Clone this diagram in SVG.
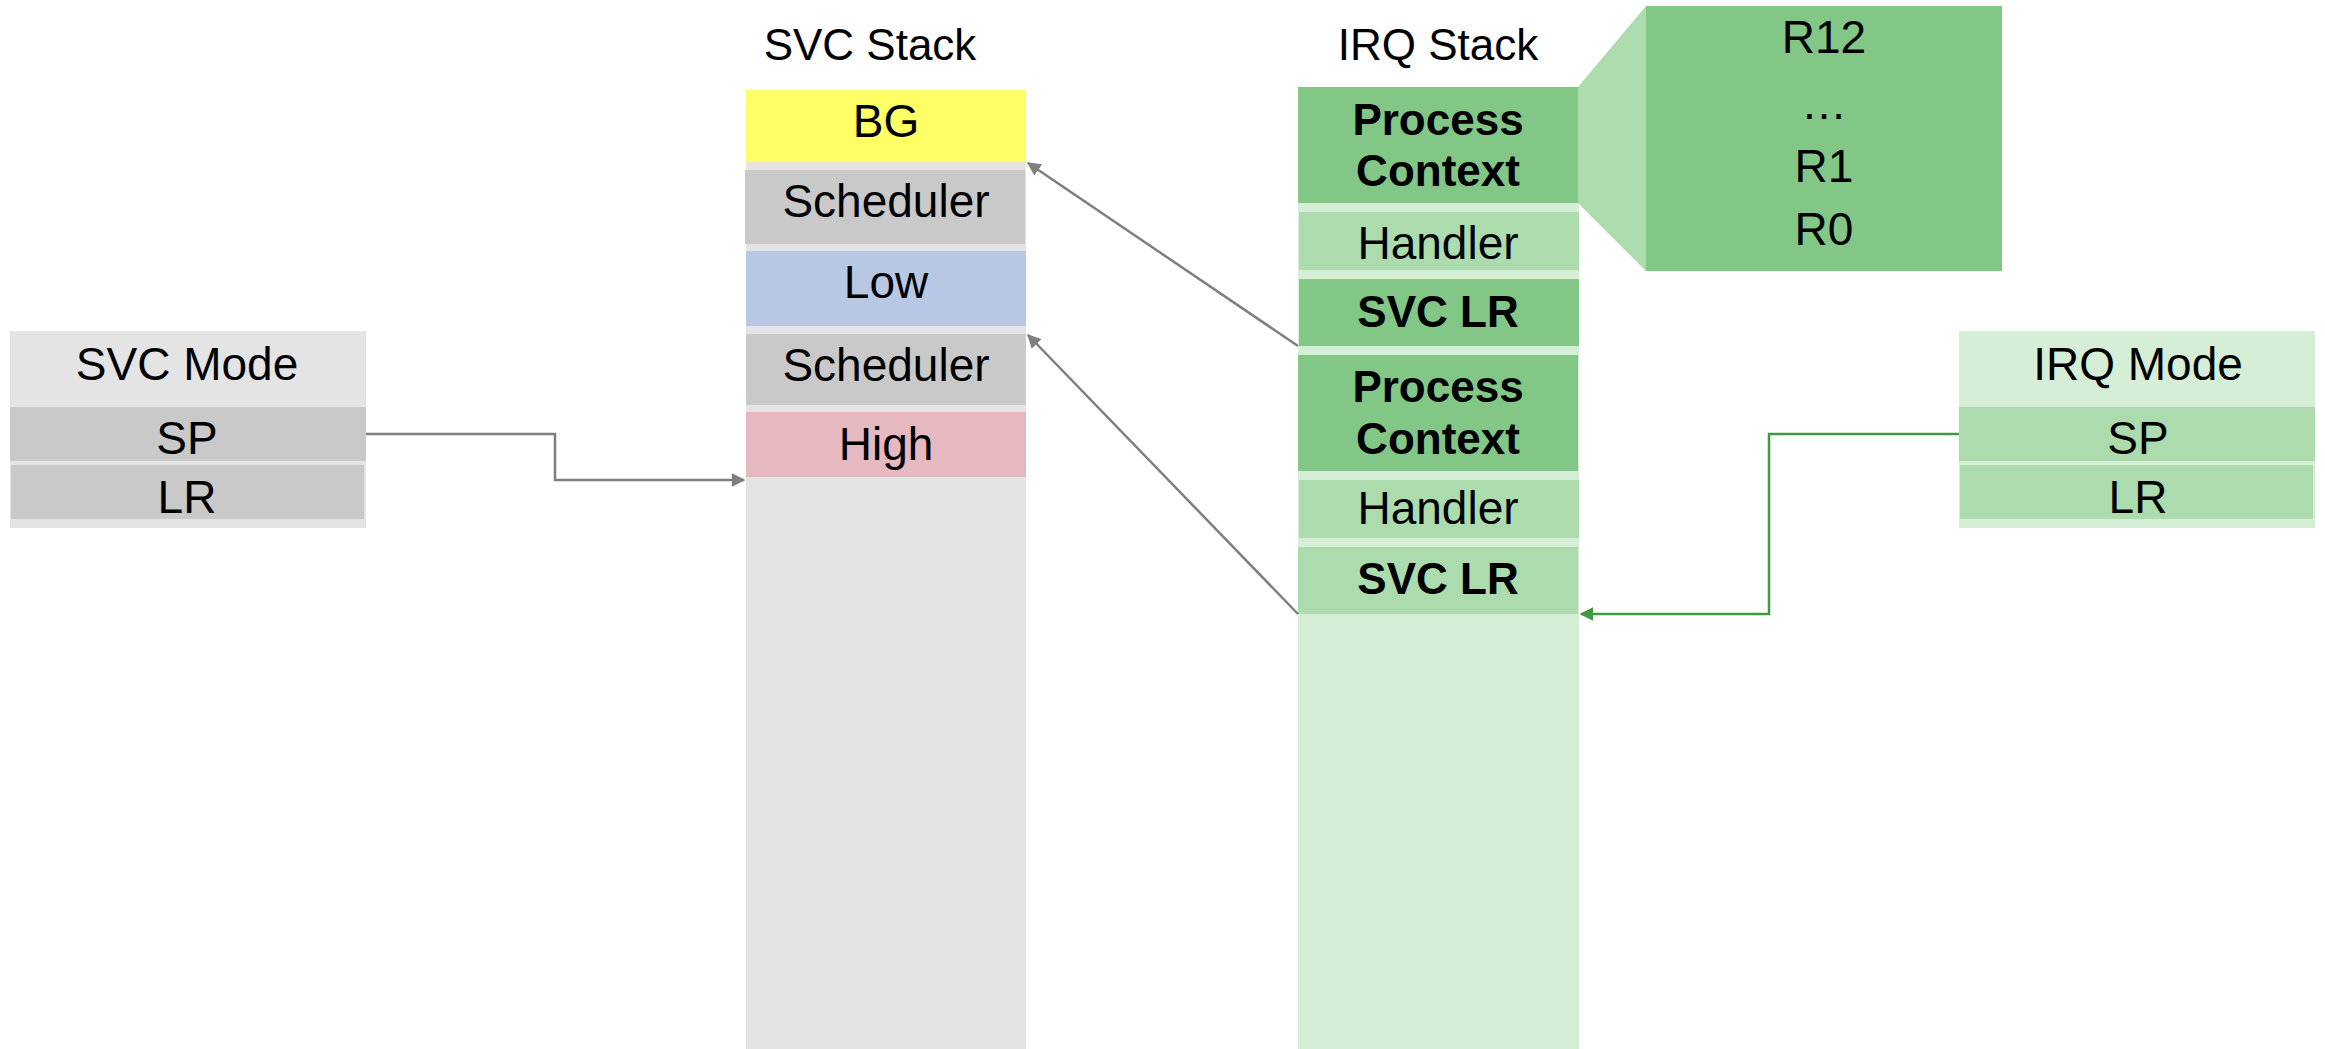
<svg xmlns="http://www.w3.org/2000/svg" width="2325" height="1049" viewBox="0 0 2325 1049">
<defs>
<style>
text{font-family:"Liberation Sans",Arial,sans-serif;font-size:46px;fill:#000;text-anchor:middle}
.b{font-weight:bold;font-size:44px}
.t{font-size:44px}
.lg{fill:#e4e4e4}.dg{fill:#c9c9c9}.yl{fill:#ffff66}.bl{fill:#b8c8e4}.pk{fill:#e6b8bf}
.g1{fill:#82c785}.g2{fill:#acdcad}.g3{fill:#d5eed5}
.cg{fill:none;stroke:#7f7f7f;stroke-width:2.5}
.cgr{fill:none;stroke:#3f9a3f;stroke-width:2.5}
</style>
<marker id="ag" viewBox="0 0 10 10" refX="9" refY="5" markerWidth="5.5" markerHeight="5.5" orient="auto" markerUnits="strokeWidth"><path d="M0,0 L10,5 L0,10 z" fill="#7f7f7f"/></marker>
<marker id="agr" viewBox="0 0 10 10" refX="9" refY="5" markerWidth="5.5" markerHeight="5.5" orient="auto" markerUnits="strokeWidth"><path d="M0,0 L10,5 L0,10 z" fill="#3f9a3f"/></marker>
</defs>
<g id="svc-mode">
<rect class="lg" x="10" y="331" width="356" height="197"/>
<rect class="dg" x="10" y="407" width="356" height="54"/>
<rect class="dg" x="11" y="465" width="353" height="54"/>
<text x="187" y="380">SVC Mode</text>
<text x="187" y="454">SP</text>
<text x="187" y="513">LR</text>
</g>
<g id="svc-stack">
<text class="t" x="870" y="60">SVC Stack</text>
<rect class="lg" x="746" y="90" width="280" height="959"/>
<rect class="yl" x="746" y="90" width="280" height="72"/>
<rect class="dg" x="745" y="170" width="280" height="74"/>
<rect class="bl" x="746" y="251" width="280" height="75"/>
<rect class="dg" x="746" y="334" width="280" height="71"/>
<rect class="pk" x="746" y="412" width="280" height="65"/>
<text x="886" y="137">BG</text>
<text x="886" y="217">Scheduler</text>
<text x="886" y="298">Low</text>
<text x="886" y="381">Scheduler</text>
<text x="886" y="460">High</text>
</g>
<g id="irq-stack">
<text class="t" x="1438" y="60">IRQ Stack</text>
<rect class="g3" x="1298" y="87" width="281" height="962"/>
<rect class="g1" x="1298" y="87" width="280" height="116"/>
<rect class="g2" x="1299" y="212" width="280" height="58"/>
<rect class="g1" x="1299" y="279" width="280" height="67"/>
<rect class="g1" x="1298" y="355" width="280" height="116"/>
<rect class="g2" x="1299" y="480" width="280" height="58"/>
<rect class="g2" x="1298" y="547" width="280" height="67"/>
<text class="b" x="1438" y="135">Process</text>
<text class="b" x="1438" y="186">Context</text>
<text x="1438" y="259">Handler</text>
<text class="b" x="1438" y="327">SVC LR</text>
<text class="b" x="1438" y="402">Process</text>
<text class="b" x="1438" y="454">Context</text>
<text x="1438" y="524">Handler</text>
<text class="b" x="1438" y="594">SVC LR</text>
</g>
<g id="context-detail">
<polygon class="g2" points="1578,87 1646,6 1646,271 1578,203"/>
<rect class="g1" x="1646" y="6" width="356" height="265"/>
<text x="1824" y="53">R12</text>
<text x="1824" y="119">…</text>
<text x="1824" y="182">R1</text>
<text x="1824" y="245">R0</text>
</g>
<g id="irq-mode">
<rect class="g3" x="1959" y="331" width="356" height="197"/>
<rect class="g2" x="1959" y="407" width="356" height="54"/>
<rect class="g2" x="1960" y="465" width="353" height="54"/>
<text x="2138" y="380">IRQ Mode</text>
<text x="2138" y="454">SP</text>
<text x="2138" y="513">LR</text>
</g>
<g id="connectors">
<polyline class="cg" points="366,434 555,434 555,480 744,480" marker-end="url(#ag)"/>
<line class="cg" x1="1298" y1="346" x2="1028" y2="163" marker-end="url(#ag)"/>
<line class="cg" x1="1298" y1="614" x2="1028" y2="335" marker-end="url(#ag)"/>
<polyline class="cgr" points="1959,434 1769,434 1769,614 1581,614" marker-end="url(#agr)"/>
</g>
</svg>
